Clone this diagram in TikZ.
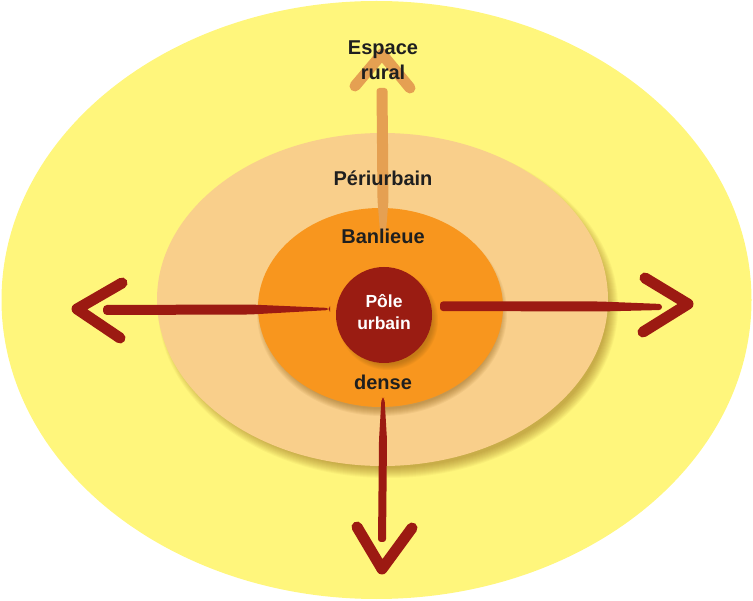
\documentclass[tikz,border=0pt]{standalone}
\usepackage{fontspec}
\setmainfont{Liberation Sans}
\usetikzlibrary{shapes.geometric,calc}
\definecolor{outerY}{HTML}{FFF67C}
\definecolor{periC}{HTML}{F9CF8B}
\definecolor{banC}{HTML}{F8961E}
\definecolor{poleC}{HTML}{9A1C12}
\definecolor{arrR}{HTML}{9C1A12}
\definecolor{arrU}{HTML}{E5A052}
\definecolor{shadC}{HTML}{8A5A10}
\begin{document}
\begin{tikzpicture}[x=1pt,y=-1pt,
  lbl/.style={font=\bfseries\fontsize{20}{22}\selectfont, text=black!88, inner sep=0pt},
  wlbl/.style={font=\bfseries\fontsize{17.5}{22}\selectfont, text=white, inner sep=0pt, align=center},
  zone/.style={ellipse, inner sep=0pt},
  chev/.style={line width=11pt, line cap=round, line join=round},
]
\useasboundingbox (0,0) rectangle (753,601);
% outer rural space
\node[zone, fill=outerY, minimum width=750pt, minimum height=598pt] (rural) at (376.5,300) {};
% shadow of periurbain
\foreach \i in {0,...,10}{
  \fill[shadC, opacity=0.05] (388,307) ellipse [x radius=220+\i, y radius=161+\i];
}
\node[zone, fill=periC, minimum width=451pt, minimum height=333pt] (peri) at (382.5,299.5) {};
% shadow of banlieue
\foreach \i in {0,...,7}{
  \fill[shadC, opacity=0.07] (382,313) ellipse [x radius=118+\i, y radius=96+\i];
}
\node[zone, fill=banC, minimum width=245pt, minimum height=199pt] (ban) at (380.5,307.5) {};

% arrow end points
\coordinate (Lin) at (330,309);  \coordinate (Lmid) at (250,309.5); \coordinate (Lout) at (103,310); \coordinate (Ltip) at (77,309);
\coordinate (Rin) at (440,306);  \coordinate (Rmid) at (600,306.5); \coordinate (Rout) at (662,307); \coordinate (Rtip) at (688,304);
\coordinate (Din) at (383,398);  \coordinate (Dmid) at (383,440);   \coordinate (Dout) at (382,542); \coordinate (Dtip) at (382,569);
\coordinate (Uin) at (383,232);  \coordinate (Umid) at (383,200);   \coordinate (Uout) at (382,88);  \coordinate (Utip) at (382,54);

% up arrow (light)
\fill[arrU, rounded corners=3pt] ($(Uin)+(-3,0)$) -- ($(Umid)+(-5.5,0)$) -- ($(Uout)+(-5.5,0)$) -- ($(Uout)+(5.5,0)$) -- ($(Umid)+(5.5,0)$) -- ($(Uin)+(3,0)$) -- cycle;
\draw[arrU, chev] (355,86) -- (Utip) -- (410,88);

% left arrow
\fill[arrR, rounded corners=4pt] ($(Lin)+(0,-1)$) -- ($(Lmid)+(0,-5)$) -- ($(Lout)+(0,-5)$) -- ($(Lout)+(0,5)$) -- ($(Lmid)+(0,5)$) -- ($(Lin)+(0,1)$) -- cycle;
\draw[arrR, chev] (122,283) -- (Ltip) -- (120,338);
% right arrow
\fill[arrR, rounded corners=3pt] ($(Rin)+(0,-4.5)$) -- ($(Rmid)+(0,-5)$) -- ($(Rout)+(0,-3)$) -- ($(Rout)+(0,3)$) -- ($(Rmid)+(0,5)$) -- ($(Rin)+(0,5)$) -- cycle;
\draw[arrR, chev] (645,278) -- (Rtip) -- (643,332);
% down arrow
\fill[arrR, rounded corners=3pt] ($(Din)+(-1.5,0)$) -- ($(Dmid)+(-4,0)$) -- ($(Dout)+(-4,0)$) -- ($(Dout)+(4,0)$) -- ($(Dmid)+(4,0)$) -- ($(Din)+(1.5,0)$) -- cycle;
\draw[arrR, chev] (357,527) -- (Dtip) -- (412,528);

% pole shadow
\foreach \i in {0,...,6}{
  \fill[shadC, opacity=0.08] (388,320) circle [radius=44+\i];
}
\node[circle, fill=poleC, minimum size=96pt, inner sep=0pt] (pole) at (384,315) {};

% labels
\node[lbl, align=center] (lrural) at (383,60) {Espace\\[3pt]rural};
\node[lbl] (lperi) at (383,178) {Périurbain};
\node[lbl] (lban) at (383,236) {Banlieue};
\node[wlbl] (lpole) at (384,312) {Pôle\\urbain};
\node[lbl] (ldense) at (383,382) {dense};
\end{tikzpicture}
\end{document}
